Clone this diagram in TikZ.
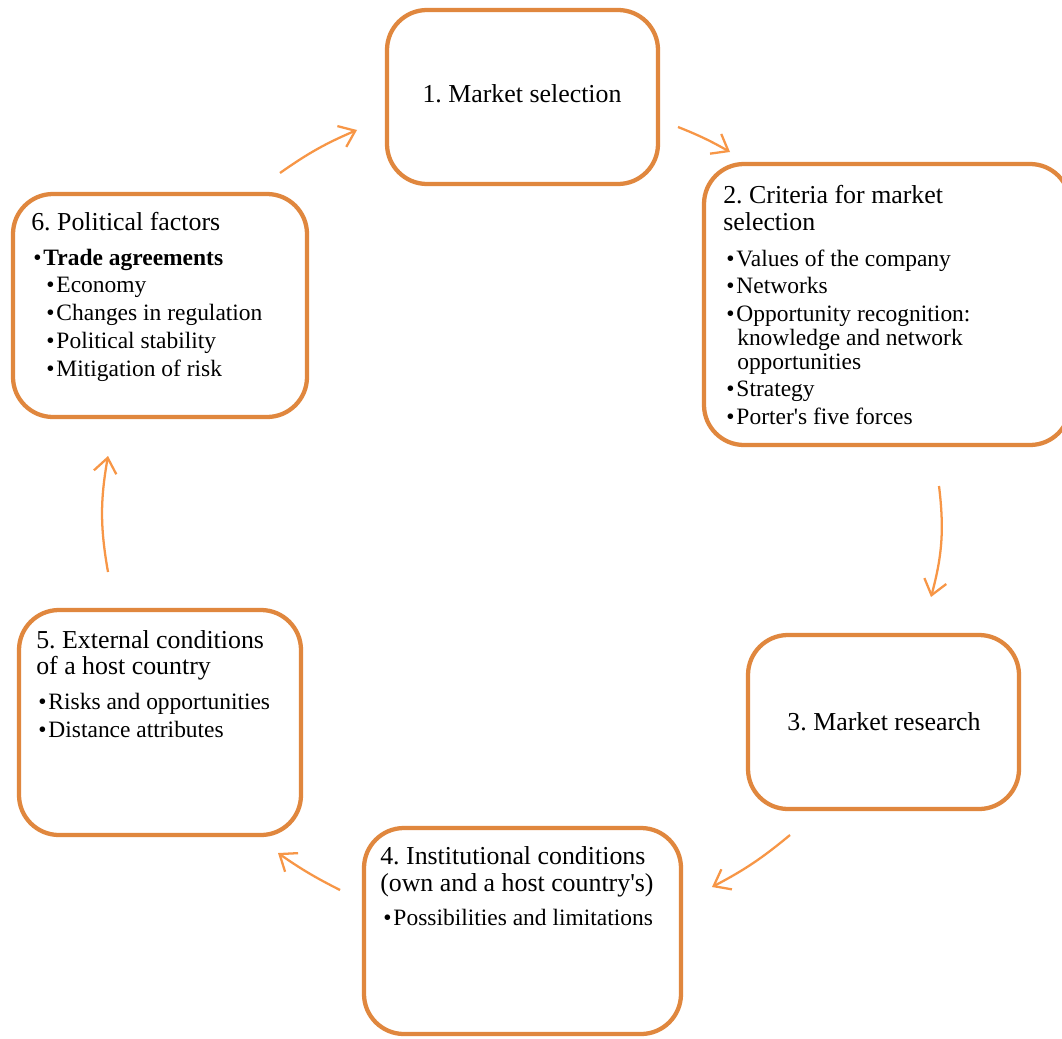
\documentclass[tikz,border=0pt]{standalone}
\usepackage{fontspec}
\setmainfont{Liberation Serif}
\usetikzlibrary{arrows.meta}
\definecolor{boxor}{RGB}{224,135,62}
\definecolor{arror}{RGB}{247,150,70}
\frenchspacing
\begin{document}
\begin{tikzpicture}[x=0.75pt,y=-0.75pt,
  box/.style={draw=boxor,line width=3.2pt,rounded corners=30pt,inner sep=0pt,fill=white},
  ttl/.style={anchor=base west,inner sep=0pt,font=\fontsize{19.4}{20}\selectfont},
  ctr/.style={anchor=base,inner sep=0pt,font=\fontsize{19.4}{20}\selectfont},
  itm/.style={anchor=base west,inner sep=0pt,font=\fontsize{17.6}{18}\selectfont},
  flow/.style={draw=arror,line width=1.7pt,-{Straight Barb[length=11pt,width=17pt]}}
]
\useasboundingbox (0,0) rectangle (1062,1038);
\clip (0,0) rectangle (1062,1038);
\fill[white] (0,0) rectangle (1062,1038);

% boxes
\node[box,minimum width=203.25pt,minimum height=130.5pt] (b1) at (522.5,97) {};
\node[box,minimum width=274.5pt,minimum height=210.75pt] (b2) at (887,304.5) {};
\node[box,minimum width=203.25pt,minimum height=130.5pt] (b3) at (883.5,722) {};
\node[box,minimum width=237.75pt,minimum height=154.5pt] (b4) at (522.5,931) {};
\node[box,minimum width=211.5pt,minimum height=168.75pt] (b5) at (160,722.5) {};
\node[box,minimum width=220.5pt,minimum height=167.25pt] (b6) at (160,305.5) {};

% box 1
\node[ctr] (t1) at (522,103) {1. Market selection};
% box 2
\node[ttl] (t2a) at (723,203) {2. Criteria for market};
\node[ttl] (t2b) at (723,230) {selection};
\node[itm] (i2a) at (726,266) {\textbullet\hspace{1.5pt}Values of the company};
\node[itm] (i2b) at (726,293.5) {\textbullet\hspace{1.5pt}Networks};
\node[itm] (i2c) at (726,321.5) {\textbullet\hspace{1.5pt}Opportunity recognition:};
\node[itm] (i2d) at (737,345.5) {knowledge and network};
\node[itm] (i2e) at (737,369.5) {opportunities};
\node[itm] (i2f) at (726,396) {\textbullet\hspace{1.5pt}Strategy};
\node[itm] (i2g) at (726,424) {\textbullet\hspace{1.5pt}Porter\textquotesingle s five forces};
% box 3
\node[ctr] (t3) at (884,730) {3. Market research};
% box 4
\node[ttl] (t4a) at (380,864) {4. Institutional conditions};
\node[ttl] (t4b) at (380,891) {(own and a host country\textquotesingle s)};
\node[itm] (i4a) at (383,925) {\textbullet\hspace{1.5pt}Possibilities and limitations};
% box 5
\node[ttl] (t5a) at (36,648) {5. External conditions};
\node[ttl] (t5b) at (36,674) {of a host country};
\node[itm] (i5a) at (38,709.5) {\textbullet\hspace{1.5pt}Risks and opportunities};
\node[itm] (i5b) at (38,737.5) {\textbullet\hspace{1.5pt}Distance attributes};
% box 6
\node[ttl] (t6) at (31,230) {6. Political factors};
\node[itm] (i6a) at (33,265) {\textbullet\hspace{1.5pt}\textbf{Trade agreements}};
\node[itm] (i6b) at (46,292) {\textbullet\hspace{1.5pt}Economy};
\node[itm] (i6c) at (46,320) {\textbullet\hspace{1.5pt}Changes in regulation};
\node[itm] (i6d) at (46,348) {\textbullet\hspace{1.5pt}Political stability};
\node[itm] (i6e) at (46,376.5) {\textbullet\hspace{1.5pt}Mitigation of risk};

% arrow end points
\coordinate (a61s) at (280,173); \coordinate (a61e) at (357,130);
\coordinate (a12s) at (678,127); \coordinate (a12e) at (730,152);
\coordinate (a23s) at (939,486); \coordinate (a23e) at (931,597);
\coordinate (a34s) at (790,835); \coordinate (a34e) at (712,887);
\coordinate (a45s) at (340,890); \coordinate (a45e) at (278,853);
\coordinate (a56s) at (108,572); \coordinate (a56e) at (108,456);

\draw[flow] (a61s) to[bend left=6] (a61e);
\draw[flow] (a12s) to[bend left=4] (a12e);
\draw[flow] (a23s) to[bend left=11] (a23e);
\draw[flow] (a34s) to[bend left=6] (a34e);
\draw[flow] (a45s) to[bend left=4] (a45e);
\draw[flow] (a56s) to[bend left=10] (a56e);
\end{tikzpicture}
\end{document}
